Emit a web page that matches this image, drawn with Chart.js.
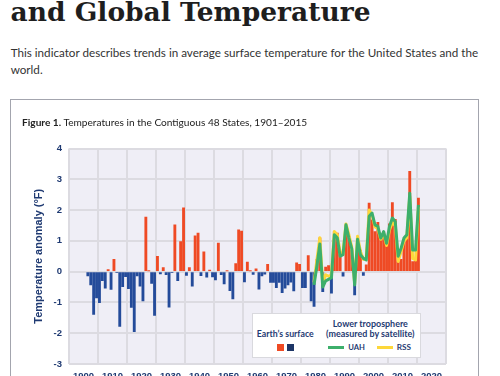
<!DOCTYPE html>
<html><head><meta charset="utf-8">
<script src="https://cdn.jsdelivr.net/npm/chart.js@4.4.0/dist/chart.umd.min.js"></script>
<style>
html,body{margin:0;padding:0;background:#fff;width:500px;height:376px;overflow:hidden;}
#wrap{position:relative;width:500px;height:376px;overflow:hidden;}
#figbox{position:absolute;left:10px;top:99px;width:469px;height:400px;border:1px solid #a3a5ae;box-sizing:border-box;}
#c{position:absolute;left:0;top:0;}
#legend{position:absolute;left:252px;top:313px;width:169px;height:45px;background:#fff;border:1.5px solid #d9d9de;box-sizing:border-box;}
.t{position:absolute;left:0;top:0;white-space:nowrap;line-height:1.2;}
.lg{font-family:Lato,"Liberation Sans",sans-serif;font-weight:bold;font-size:9px;color:#1f3a72;}
.sw{position:absolute;}
</style></head>
<body><div id="wrap">
<div class="t" id="h1" data-x="10.5" data-b="20.7" data-w="360" style="font-family:'DejaVu Serif';font-weight:bold;font-size:26px;color:#1e1e1e">and Global Temperature</div>
<div class="t" id="p1" data-x="10.7" data-b="57.3" data-w="468" style="font-family:Lato;font-size:12px;color:#333">This indicator describes trends in average surface temperature for the United States and the</div>
<div class="t" data-x="10.7" data-b="74" data-ref="p1" style="font-family:Lato;font-size:12px;color:#333">world.</div>
<div id="figbox"></div>
<canvas id="c" width="500" height="400"></canvas>
<div class="t" data-x="22" data-b="125.7" data-w="285.3" style="font-family:Lato;font-size:10.5px;color:#222"><b>Figure 1.</b> Temperatures in the Contiguous 48 States, 1901–2015</div>
<div id="legend"></div>
<div class="t lg" data-cx="285.3" data-b="336.7" data-w="57">Earth’s surface</div>
<div class="t lg" data-cx="370.3" data-b="327.3" data-w="75.3">Lower troposphere</div>
<div class="t lg" data-cx="370.3" data-b="336.7" data-w="88.7">(measured by satellite)</div>
<div class="t lg" data-x="348.3" data-b="350" data-w="16.7">UAH</div>
<div class="t lg" data-x="396.7" data-b="350" data-w="14.3">RSS</div>
<div class="sw" style="left:277px;top:344px;width:7px;height:7px;background:#ef4a24"></div>
<div class="sw" style="left:287.3px;top:344px;width:7px;height:7px;background:#1d3566"></div>
<div class="sw" style="left:328.3px;top:346px;width:15.7px;height:3px;background:#3daf6b"></div>
<div class="sw" style="left:377.3px;top:346px;width:16px;height:3px;background:#fdd73a"></div>
</div>
<script>
// ---- data ----
const startYear = 1901;
const surfaceAnomaly = [
  -0.14,-0.43,-1.39,-0.85,-1.01,-0.29,-0.54,0.07,-0.58,0.40,
  -0.03,-1.78,-0.49,-0.16,-0.55,-1.16,-1.95,-0.14,-0.47,-0.95,
  1.77,0.02,-0.38,-1.42,0.50,-0.07,0.13,-0.10,-1.15,-0.03,
  1.52,-0.29,0.98,2.07,-0.12,0.13,-0.47,1.16,1.25,-0.13,
  0.64,-0.18,0.05,-0.17,-0.27,0.93,-0.10,-0.40,0.02,-0.62,
  -0.89,0.26,1.36,1.32,-0.33,0.31,0.02,-0.09,0.09,-0.57,
  -0.14,-0.08,0.24,-0.35,-0.35,-0.52,-0.35,-0.68,-0.54,-0.43,
  -0.34,-0.63,0.29,0.24,-0.52,-0.52,0.52,-0.95,-1.13,0.40,
  1.10,-0.65,0.15,0.20,-0.70,1.30,1.25,0.55,-0.15,1.50,
  1.15,0.70,-0.76,1.00,0.70,-0.12,0.22,2.23,1.68,1.30,
  1.60,1.15,1.30,1.00,1.55,2.24,1.70,0.35,0.40,0.95,
  1.20,3.26,0.33,0.35,2.39
];
const satStartYear = 1979;
const uahAnomaly = [
  -0.43,0.20,0.90,-0.50,-0.30,-0.25,-0.20,1.20,1.10,0.50,
  0.55,1.52,1.10,0.75,-0.43,1.05,0.55,0.43,0.38,1.80,
  1.90,1.52,1.47,1.09,1.30,0.92,1.47,1.74,1.63,0.50,
  0.76,1.09,1.20,2.55,0.70,0.70,2.17
];
const rssAnomaly = [
  -0.35,0.40,1.10,-0.40,-0.10,-0.15,-0.10,1.30,1.20,0.62,
  0.60,1.55,1.20,0.80,-0.38,1.15,0.65,0.40,0.45,2.00,
  1.85,1.45,1.40,1.05,1.25,0.85,1.35,1.60,1.50,0.33,
  0.65,1.00,1.10,2.45,0.43,0.38,2.10
];
const xTickLabels = ['1900','1910','1920','1930','1940','1950','1960','1970','1980','1990','2000','2010','2020'];
const yTickLabels = ['-3','-2','-1','0','1','2','3','4'];

// ---- text layout ----
(function(){
  const els = Array.from(document.querySelectorAll('.t'));
  els.forEach(el=>{
    const mk=document.createElement('span');
    mk.style.cssText='display:inline-block;width:0;height:0;vertical-align:baseline';
    el.appendChild(mk); el._mk=mk;
  });
  els.forEach(el=>{
    if(el.dataset.ref){ el.style.fontSize=document.getElementById(el.dataset.ref).style.fontSize; }
    else if(el.dataset.w){
      const fs=parseFloat(getComputedStyle(el).fontSize);
      const w=el.getBoundingClientRect().width;
      el.style.fontSize=(fs*parseFloat(el.dataset.w)/w)+'px';
    }
    const r=el.getBoundingClientRect(), m=el._mk.getBoundingClientRect();
    const off=m.top-r.top;
    el.style.top=(parseFloat(el.dataset.b)-off)+'px';
    if(el.dataset.cx) el.style.left=(parseFloat(el.dataset.cx)-r.width/2)+'px';
    else el.style.left=el.dataset.x+'px';
  });
})();

// ---- chart ----
const RED='#ef4a24', BLUE='#244b9a', NAVY='#1f3a72';
const surfacePts = surfaceAnomaly.map((v,i)=>({x:startYear+i+0.5,y:v}));
const uahPts = uahAnomaly.map((v,i)=>({x:satStartYear+i+0.5,y:v}));
const rssPts = rssAnomaly.map((v,i)=>({x:satStartYear+i+0.5,y:v}));

const bg = {id:'bg', beforeDraw(chart){const a=chart.chartArea,c=chart.ctx;c.save();c.fillStyle='#efeef6';c.fillRect(a.left,a.top,a.right-a.left,a.bottom-a.top);c.restore();}};
const tickFont={family:'"Liberation Sans", Arial, sans-serif',weight:'bold',size:9.5};

new Chart(document.getElementById('c'),{
  data:{datasets:[
    {type:'line',label:'UAH',data:uahPts,borderColor:'#3daf6b',borderWidth:3,pointRadius:0,tension:0,order:1,borderJoinStyle:'round'},
    {type:'line',label:'RSS',data:rssPts,borderColor:'#fdd73a',borderWidth:3,pointRadius:0,tension:0,order:2,borderJoinStyle:'round'},
    {type:'bar',label:'Earth’s surface',data:surfacePts,backgroundColor:surfacePts.map(p=>p.y>=0?RED:BLUE),barThickness:2.2,borderWidth:0,order:3}
  ]},
  options:{
    responsive:false,animation:false,
    layout:{padding:{left:0,right:54,top:148.5,bottom:16}},
    scales:{
      x:{type:'linear',min:1900,max:2020,
        afterBuildTicks:s=>{s.ticks=xTickLabels.map(v=>({value:Number(v)}));},
        afterFit:s=>{s.height=20;},
        ticks:{autoSkip:false,maxRotation:0,padding:7,color:NAVY,font:tickFont,callback:(v,i)=>xTickLabels[i]},
        grid:{color:'#dcdbe1',lineWidth:2,drawTicks:false},border:{display:false}},
      y:{type:'linear',min:-3,max:4,
        afterBuildTicks:s=>{s.ticks=yTickLabels.map(v=>({value:Number(v)}));},
        afterFit:s=>{s.width=69;},
        ticks:{padding:7,color:NAVY,font:tickFont,callback:(v,i)=>yTickLabels[i]},
        grid:{color:'#dcdbe1',lineWidth:2,drawTicks:false},border:{display:false},
        title:{display:true,text:'Temperature anomaly (°F)',color:NAVY,font:{family:'"Liberation Sans", Arial, sans-serif',weight:'bold',size:11},padding:{top:31.9,bottom:0}}}
    },
    plugins:{legend:{display:false},tooltip:{enabled:false}}
  },
  plugins:[bg]
});
</script>
</body></html>
